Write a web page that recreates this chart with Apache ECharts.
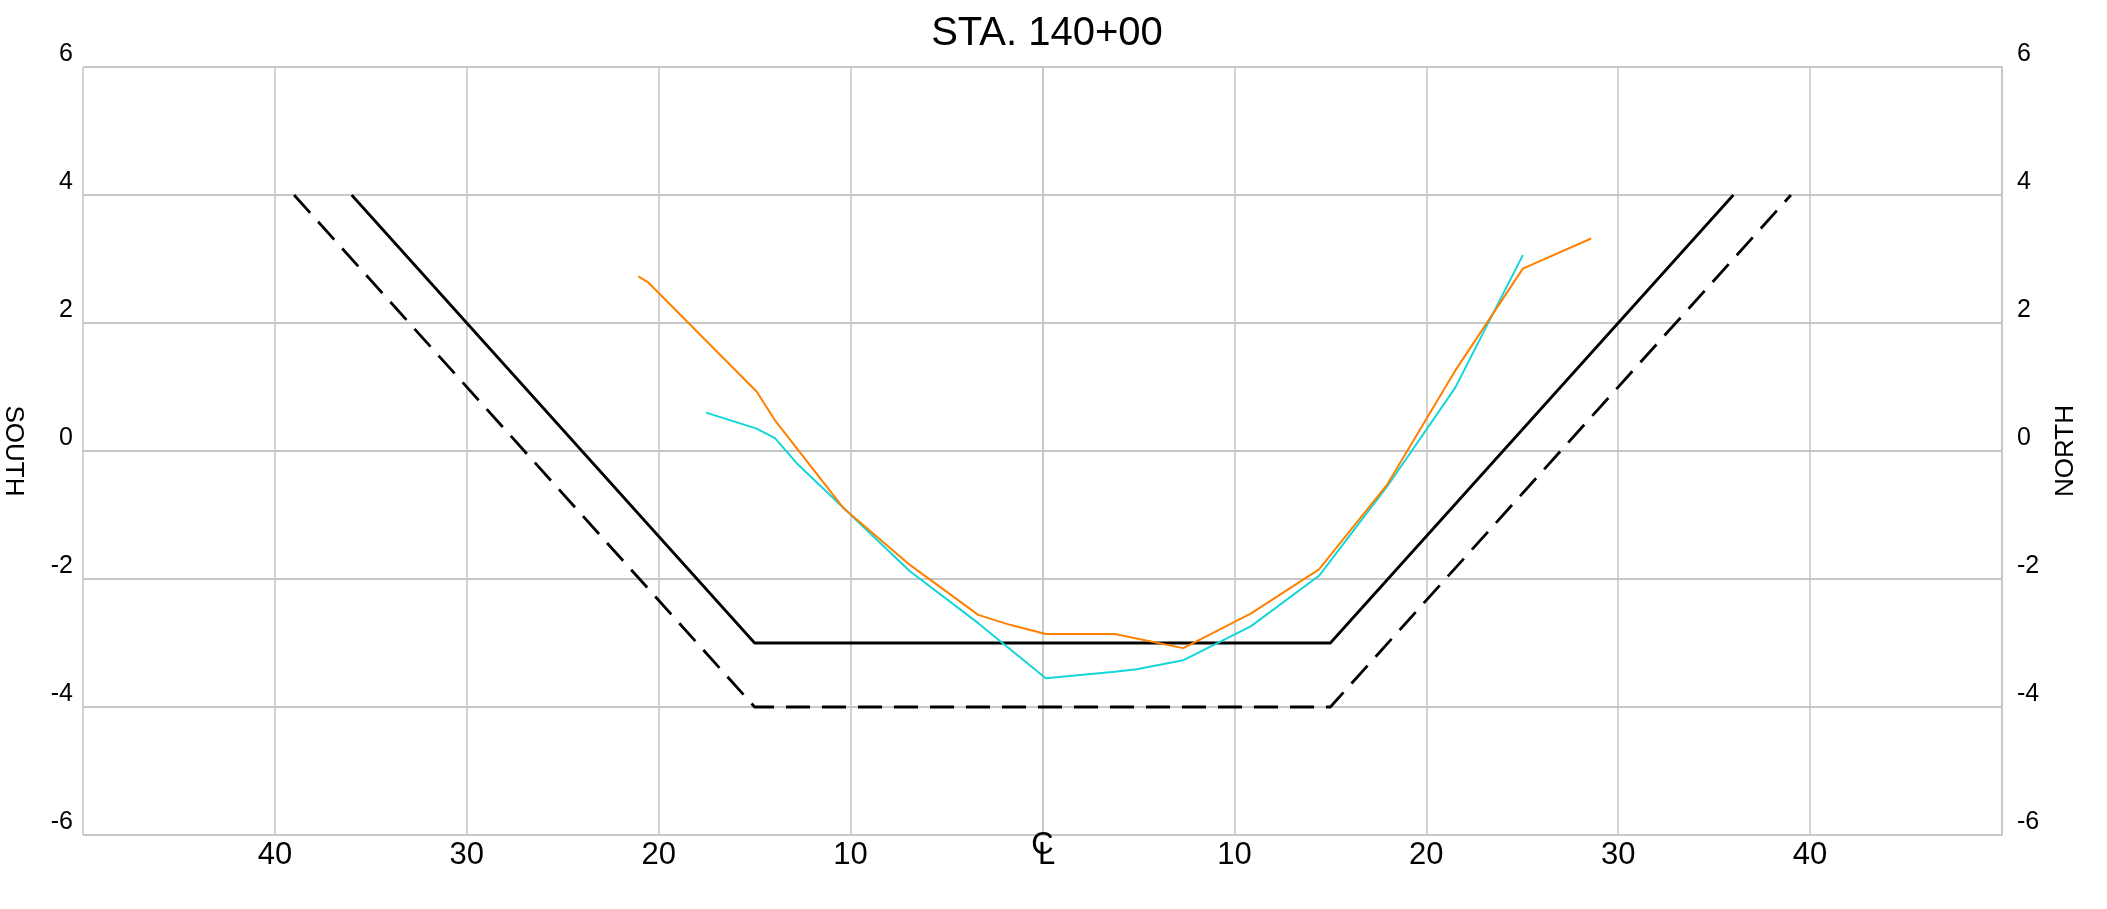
<!DOCTYPE html>
<html>
<head>
<meta charset="utf-8">
<script src="https://cdn.jsdelivr.net/npm/echarts@6/dist/echarts.min.js"></script>
<style>
  html, body { margin: 0; padding: 0; background: #fff; }
  #chart { width: 2107px; height: 909px; }
</style>
</head>
<body>
<div id="chart"></div>
<script>
// ---- data ----
const titleText = 'STA. 140+00';
const leftAxisName = 'SOUTH';
const rightAxisName = 'NORTH';

// design template (solid)
const designX = [-36, -15, 15, 36];
const designY = [4, -3, -3, 4];
// overdepth template (dashed)
const overX = [-39, -15, 15, 39];
const overY = [4, -4, -4, 4];

// survey profile (orange)
const orangeX = [-21.06, -20.57, -14.90, -13.94, -10.38, -6.91, -3.35, -1.65, 0.17, 3.77, 7.33, 10.85, 14.41, 17.97, 21.56, 25.03, 28.59];
const orangeY = [2.73, 2.64, 0.93, 0.48, -0.89, -1.78, -2.56, -2.72, -2.86, -2.86, -3.08, -2.54, -1.85, -0.52, 1.28, 2.85, 3.32];

// survey profile (cyan)
const cyanX = [-17.53, -14.90, -13.94, -12.81, -6.91, -3.35, 0.17, 3.77, 4.90, 7.33, 10.85, 14.41, 17.97, 21.51, 25.03];
const cyanY = [0.60, 0.35, 0.20, -0.19, -1.88, -2.69, -3.55, -3.45, -3.41, -3.27, -2.74, -1.95, -0.55, 0.99, 3.06];

// tick labels
const xTickValues = [-50, -40, -30, -20, -10, 0, 10, 20, 30, 40, 50];
const xTickLabels = ['', '40', '30', '20', '10', 'CL', '10', '20', '30', '40', ''];
const yTickValues = [-6, -4, -2, 0, 2, 4, 6];

function pairs(xs, ys) { return xs.map((x, i) => [x, ys[i]]); }

const FONT = '"Liberation Sans", Arial, Helvetica, sans-serif';
const GRID_COLOR = '#c4c4c4';

const chart = echarts.init(document.getElementById('chart'), null, { renderer: 'canvas' });

const yAxisCommon = {
  type: 'value', min: -6, max: 6, interval: 2,
  nameLocation: 'middle',
  nameTextStyle: { fontFamily: FONT, fontSize: 26, color: '#000' },
  axisLine: { show: true, lineStyle: { color: GRID_COLOR, width: 1.5 } },
  axisTick: { show: false },
  splitLine: { show: true, lineStyle: { color: GRID_COLOR, width: 1.5 } }
};

chart.setOption({
  animation: false,
  backgroundColor: '#fff',
  title: {
    text: titleText,
    left: 1042, top: 9, textAlign: 'center',
    textStyle: { fontFamily: FONT, fontSize: 40, fontWeight: 'normal', color: '#000' }
  },
  grid: { left: 83, right: 105, top: 67, bottom: 74, containLabel: false, outerBoundsMode: 'none' },
  xAxis: {
    type: 'value', min: -50, max: 50, interval: 10,
    axisLine: { show: true, lineStyle: { color: GRID_COLOR, width: 1.5 } },
    axisTick: { show: false },
    splitLine: { show: true, lineStyle: { color: GRID_COLOR, width: 1.5 } },
    axisLabel: {
      margin: 5,
      fontFamily: FONT, fontSize: 31, color: '#000',
      showMinLabel: true, showMaxLabel: true,
      formatter: function (v) {
        const idx = xTickValues.indexOf(Math.round(v));
        const lbl = idx >= 0 ? xTickLabels[idx] : '';
        if (lbl === 'CL') return '{c|C}\n{l|L}';
        return lbl;
      },
      rich: {
        c: { fontFamily: FONT, fontSize: 31, color: '#000', lineHeight: 10 },
        l: { fontFamily: FONT, fontSize: 31, color: '#000', lineHeight: 10, padding: [0, 0, 0, 8] }
      }
    }
  },
  yAxis: [
    Object.assign({}, yAxisCommon, {
      position: 'left',
      name: leftAxisName, nameRotate: -90, nameGap: 57,
      axisLabel: { margin: 10, fontFamily: FONT, fontSize: 25, color: '#000', verticalAlign: 'bottom',
        formatter: v => String(v) }
    }),
    Object.assign({}, yAxisCommon, {
      position: 'right',
      name: rightAxisName, nameRotate: 90, nameGap: 51,
      axisLabel: { margin: 15, fontFamily: FONT, fontSize: 25, color: '#000', verticalAlign: 'bottom',
        formatter: v => String(v) }
    })
  ],
  series: [
    {
      type: 'line', name: 'Overdepth', data: pairs(overX, overY),
      showSymbol: false, symbol: 'none',
      lineStyle: { color: '#000', width: 2.8, type: [24, 12] }, z: 3
    },
    {
      type: 'line', name: 'Design', data: pairs(designX, designY),
      showSymbol: false, symbol: 'none',
      lineStyle: { color: '#000', width: 2.8 }, z: 3
    },
    {
      type: 'line', name: 'Survey A', data: pairs(cyanX, cyanY),
      showSymbol: false, symbol: 'none',
      lineStyle: { color: '#14d6d8', width: 2 }, z: 4
    },
    {
      type: 'line', name: 'Survey B', data: pairs(orangeX, orangeY),
      showSymbol: false, symbol: 'none',
      lineStyle: { color: '#ff8000', width: 2 }, z: 5
    }
  ]
});
</script>
</body>
</html>
